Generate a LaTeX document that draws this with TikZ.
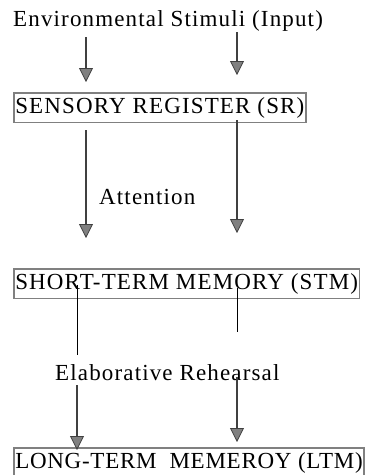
\documentclass[tikz,border=0pt]{standalone}
\usepackage{fontspec}
\setmainfont{Liberation Serif}[LetterSpace=5]
\usetikzlibrary{arrows.meta}

\tikzset{
	memstore/.style={draw=black!50, line width=1.6pt, inner xsep=1.5pt, inner ysep=4.5pt, anchor=north west},
	plaintext/.style={anchor=base west, inner sep=0pt},
	flow/.style={draw=black!75, line width=1.6pt, -{Triangle[width=14pt,length=14pt,fill=black!50,line width=0.8pt]}},
	tick/.style={draw=black, line width=0.6pt}
}

\begin{document}
\begin{tikzpicture}[x=1pt, y=-1pt, font=\fontsize{23}{27}\selectfont]
			%%%%% START %%%%%
			
			\useasboundingbox (0, 0) rectangle (365, 475);
			
			\node[plaintext] (input) at (13, 26) {Environmental Stimuli (Input)};
			\node[memstore] (sr) at (13, 92) {SENSORY REGISTER (SR)};
			\node[plaintext] (attn) at (99, 204) {Attention};
			\node[memstore] (stm) at (13, 268) {SHORT-TERM MEMORY (STM)};
			\node[plaintext] (elab) at (55, 380) {Elaborative Rehearsal};
			\node[memstore] (ltm) at (13, 447) {\addfontfeature{LetterSpace=3.2}LONG-TERM\ \ MEMEROY (LTM)};
			
			\coordinate (in1) at (86, 37);   \coordinate (sr1) at (86, 82);
			\coordinate (in2) at (237, 32);  \coordinate (sr2) at (237, 75);
			\coordinate (sr3) at (86, 130);  \coordinate (stm1) at (86, 238);
			\coordinate (sr4) at (237, 120); \coordinate (stm2) at (237, 233);
			
			\draw[flow] (in1) -- (sr1);
			\draw[flow] (in2) -- (sr2);
			\draw[flow] (sr3) -- (stm1);
			\draw[flow] (sr4) -- (stm2);
			
			\coordinate (stm3) at (77, 285);  \coordinate (el1) at (77, 355);
			\coordinate (stm4) at (237, 288); \coordinate (el2) at (237, 332);
			
			\draw[tick] (stm3) -- (el1);
			\draw[tick] (stm4) -- (el2);
			
			\coordinate (el3) at (77, 385);  \coordinate (ltm1) at (77, 450);
			\coordinate (el4) at (237, 377); \coordinate (ltm2) at (237, 442);
			
			\draw[flow] (el3) -- (ltm1);
			\draw[flow] (el4) -- (ltm2);
			
			%%%%% END %%%%%
\end{tikzpicture}
\end{document}
